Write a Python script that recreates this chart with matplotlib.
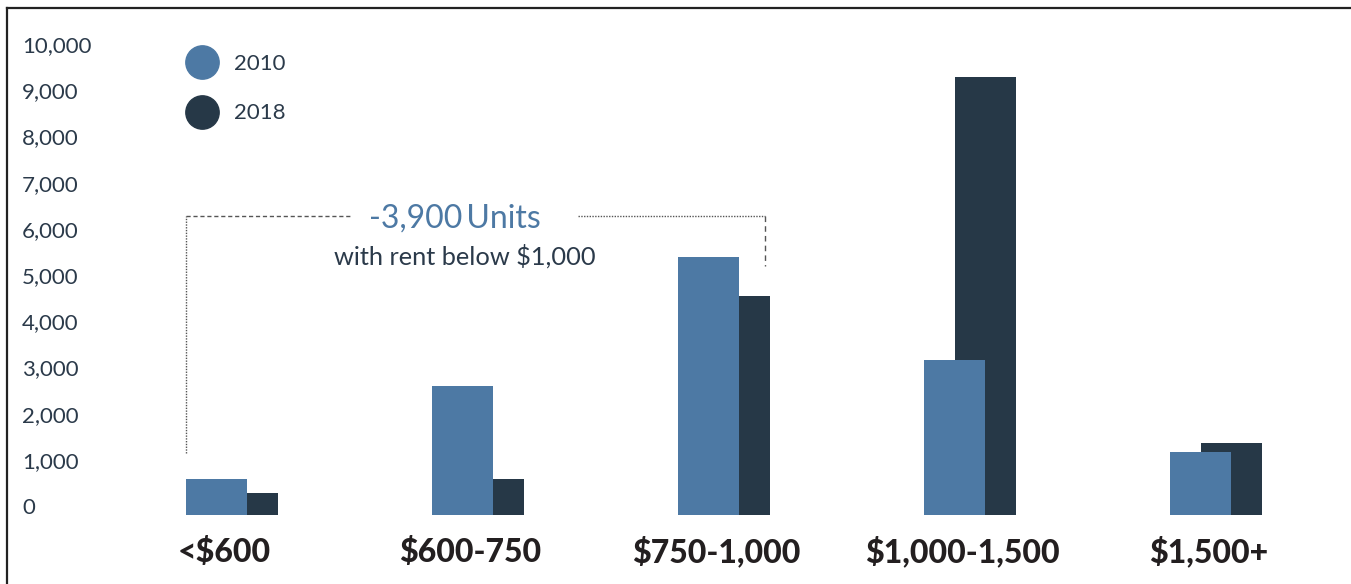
import matplotlib.pyplot as plt
import numpy as np
from matplotlib.lines import Line2D
from matplotlib.transforms import ScaledTranslation, blended_transform_factory

# rent bands and unit counts
categories = ['<$600', '$600-750', '$750-1,000', '$1,000-1,500', '$1,500+']
units_2010 = [780, 2790, 5580, 3350, 1360]
units_2018 = [480, 780, 4740, 9480, 1560]
yticks = [0, 1000, 2000, 3000, 4000, 5000, 6000, 7000, 8000, 9000, 10000]
years = ['2010', '2018']

c2010 = '#4d79a4'
c2018 = '#263847'
txt = '#2b3a4a'

plt.rcParams['font.family'] = ['Lato', 'DejaVu Sans']

W, H = 1351, 584
fig = plt.figure(figsize=(W / 100, H / 100), dpi=100)

# axes placed in pixel terms: category 0 centered at x=232, step 246 px
left_px, right_px, bot_px, top_px = 130, 1340, 515, 53
ax = fig.add_axes([left_px / W, (H - bot_px) / H, (right_px - left_px) / W, (bot_px - top_px) / H])
ax.set_xlim((left_px - 232) / 246, (right_px - 232) / 246)
ax.set_ylim(0, 10000)

x = np.arange(len(categories))
bw = 0.252
off = 0.063
ax.bar(x + off, units_2018, width=bw, color=c2018, zorder=2)
ax.bar(x - off, units_2010, width=bw, color=c2010, zorder=3)

for s in ax.spines.values():
    s.set_visible(False)
ax.set_yticks([])
ax.set_xticks(x - 0.03)
ax.set_xticklabels(categories, fontsize=23, fontweight='black', color='#231f20', va='baseline')
ax.tick_params(axis='x', length=0, pad=34)

# y labels, left aligned near the frame, nudged up a little like the original
ylab_tr = blended_transform_factory(fig.transFigure, ax.transData) + ScaledTranslation(0, 7 / 100, fig.dpi_scale_trans)
for t in yticks:
    ax.text(22 / W, t, f'{t:,}', transform=ylab_tr, ha='left', va='center',
            fontsize=16, color=txt, clip_on=False)

# legend with round markers
handles = [Line2D([], [], marker='o', linestyle='none', markersize=24, color=c) for c in (c2010, c2018)]
leg = fig.legend(handles, years, loc='upper left', bbox_to_anchor=(175 / W, 1 - 43 / H),
                 frameon=False, fontsize=16, labelcolor=txt, labelspacing=1.32,
                 handletextpad=0.7, borderpad=0, handlelength=1.45)

# bracket around the three bands below $1,000
lc = '#555555'
xl, xr = (186 - 232) / 246, (765 - 232) / 246
ax.plot([xl, xl], [1350, 6480], color=lc, lw=1, ls=(0, (1, 1)), zorder=1)
ax.plot([xl, (350 - 232) / 246], [6480, 6480], color=lc, lw=1, ls=(0, (3, 2)), zorder=1)
ax.plot([(578 - 232) / 246, xr], [6480, 6480], color=lc, lw=1, ls=(0, (1, 1)), zorder=1)
ax.plot([xr, xr], [6480, 5400], color=lc, lw=1, ls=(0, (4, 3)), zorder=1)

ax.text(0.906, 6420, '-3,900\u2009Units', ha='center', va='center', fontsize=23, color=c2010)
ax.text(0.947, 5600, 'with rent below $1,000', ha='center', va='center', fontsize=18.3, color=txt)

# frame: top and left edges only
fig.add_artist(Line2D([7 / W, 1], [1 - 8 / H, 1 - 8 / H], transform=fig.transFigure, color='#222222', lw=1.6))
fig.add_artist(Line2D([7 / W, 7 / W], [0, 1 - 8 / H], transform=fig.transFigure, color='#222222', lw=1.6))

fig.savefig('out.png', dpi=100)
